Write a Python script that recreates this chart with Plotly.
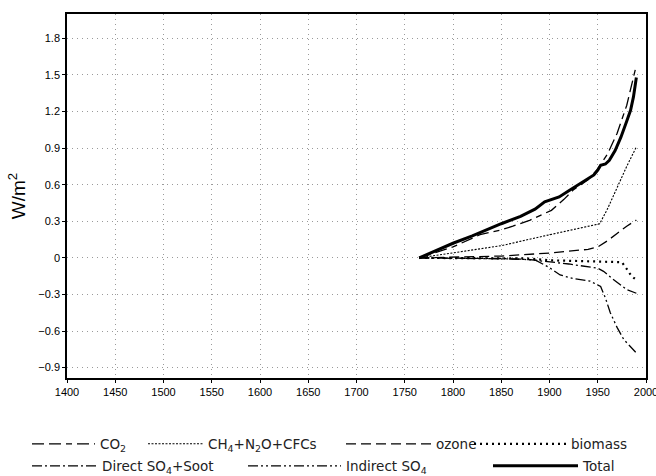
import plotly.graph_objects as go

co2_years = [1765, 1800, 1828, 1850, 1862, 1880, 1902, 1915, 1925, 1940, 1950, 1960, 1970, 1980, 1990]
co2_vals = [0, 0.09, 0.19, 0.23, 0.26, 0.31, 0.39, 0.48, 0.56, 0.64, 0.73, 0.85, 1.02, 1.25, 1.58]

ghg_years = [1765, 1800, 1850, 1900, 1952, 1960, 1970, 1980, 1990]
ghg_vals = [0, 0.04, 0.10, 0.19, 0.28, 0.40, 0.58, 0.75, 0.91]

ozone_years = [1765, 1850, 1900, 1940, 1950, 1960, 1970, 1980, 1990]
ozone_vals = [0, 0.015, 0.04, 0.07, 0.09, 0.14, 0.20, 0.26, 0.31]

biomass_years = [1765, 1850, 1880, 1900, 1950, 1975, 1980, 1985, 1990]
biomass_vals = [0, 0, -0.005, -0.02, -0.03, -0.035, -0.09, -0.15, -0.18]

direct_years = [1765, 1850, 1880, 1897, 1920, 1950, 1956, 1965, 1973, 1980, 1990]
direct_vals = [0, -0.005, -0.015, -0.03, -0.05, -0.085, -0.11, -0.17, -0.22, -0.26, -0.29]

indirect_years = [1765, 1850, 1870, 1886, 1900, 1911, 1925, 1942, 1953, 1958, 1963, 1970, 1977, 1983, 1990]
indirect_vals = [0, -0.005, -0.01, -0.02, -0.08, -0.14, -0.17, -0.19, -0.235, -0.33, -0.45, -0.57, -0.67, -0.72, -0.78]

total_years = [1765, 1780, 1800, 1820, 1835, 1850, 1870, 1885, 1895, 1910, 1920, 1930, 1937, 1946, 1950, 1953, 1958, 1962, 1968, 1974, 1980, 1984, 1987, 1990]
total_vals = [0, 0.05, 0.12, 0.18, 0.23, 0.28, 0.34, 0.40, 0.46, 0.50, 0.55, 0.60, 0.64, 0.68, 0.72, 0.76, 0.77, 0.80, 0.88, 0.99, 1.12, 1.21, 1.32, 1.48]

x_ticks = list(range(1400, 2001, 50))
y_ticks = [-0.9, -0.6, -0.3, 0, 0.3, 0.6, 0.9, 1.2, 1.5, 1.8]
y_ticktext = ["\u22120.9", "\u22120.6", "\u22120.3", "0", "0.3", "0.6", "0.9", "1.2", "1.5", "1.8"]

W, H = 656, 476
# (name, x, y, dash, width, legend line start px, legend symbol width px, legend row centre px)
series = [
    ("CO<sub>2</sub>", co2_years, co2_vals, "12px,5px,12px,5px,6px,5px", 1.3, 32, 63, 444),
    ("CH<sub>4</sub>+N<sub>2</sub>O+CFCs", ghg_years, ghg_vals, "2px,1.5px", 1.1, 148, 55, 444),
    ("ozone", ozone_years, ozone_vals, "10px,5px", 1.3, 346, 85, 444),
    ("biomass", biomass_years, biomass_vals, "2px,4px", 2.2, 474, 92, 444),
    ("Direct SO<sub>4</sub>+Soot", direct_years, direct_vals, "10px,3px,2px,3px", 1.3, 32, 65, 466),
    ("Indirect SO<sub>4</sub>", indirect_years, indirect_vals, "10px,3px,2px,3px,2px,3px", 1.3, 248, 93, 466),
    ("Total", total_years, total_vals, "solid", 3, 493, 85, 466),
]

fig = go.Figure()
legend_layouts = {}
for i, (name, xs, ys, dash, w, lx, lw, ly) in enumerate(series):
    key = "legend" if i == 0 else f"legend{i + 1}"
    fig.add_trace(go.Scatter(x=xs, y=ys, mode="lines", name=name, showlegend=True,
                             line=dict(color="black", width=w, dash=dash),
                             legend=key))
    legend_layouts[key] = dict(
        xref="container", yref="container",
        x=(lx - 5) / W, y=1 - ly / H, xanchor="left", yanchor="middle",
        orientation="h", itemwidth=max(30, lw),
        font=dict(family="DejaVu Sans", size=13.5, color="#222"),
        bgcolor="rgba(0,0,0,0)",
    )

axis_common = dict(showline=True, linecolor="black", linewidth=1.5, mirror=True,
                   ticks="outside", ticklen=3, tickcolor="black", automargin=False,
                   ticklabeloverflow="allow",
                   showgrid=True, gridcolor="#9a9a9a", griddash="1px,4px", gridwidth=1,
                   zeroline=False,
                   tickfont=dict(family="Liberation Sans, Arial", size=11, color="black"))

fig.update_layout(
    width=W, height=H,
    showlegend=True,
    margin=dict(l=67, r=10, t=14, b=98),
    paper_bgcolor="white", plot_bgcolor="white",
    xaxis=dict(range=[1400, 2000], tickvals=x_ticks, **axis_common),
    yaxis=dict(range=[-0.985, 2.0], tickvals=y_ticks, ticktext=y_ticktext,
               title=dict(text="W/m<sup>2</sup>", standoff=8,
                          font=dict(family="Liberation Sans, Arial", size=19, color="black")),
               **axis_common),
    **legend_layouts,
)

fig.write_html("out.html")
